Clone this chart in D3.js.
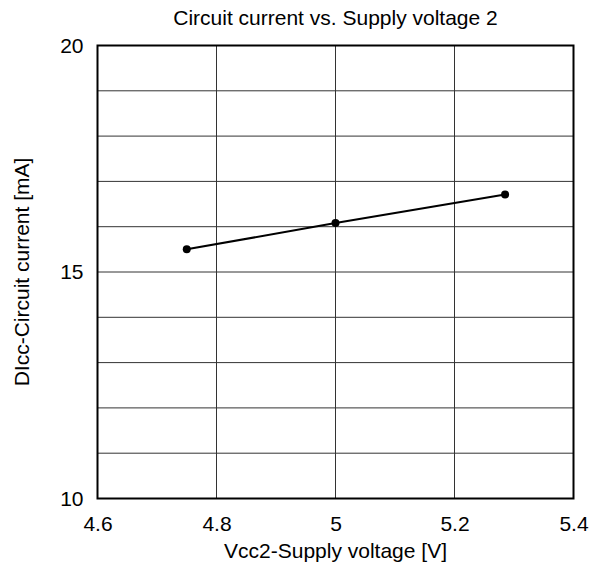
<!DOCTYPE html>
<html><head><meta charset="utf-8">
<script src="https://cdn.jsdelivr.net/npm/d3@7"></script>
<style>body{margin:0;background:#fff}svg{display:block;font-family:"Liberation Sans",Arial,sans-serif}</style>
</head><body>
<svg id="c" width="600" height="575"></svg>
<script>
const voltage = [4.75, 5.0, 5.285];
const current = [15.5, 16.08, 16.71];
const xTicks = [4.6, 4.8, 5.0, 5.2, 5.4];
const xTickLabels = ["4.6", "4.8", "5", "5.2", "5.4"];
const yTicks = [10, 15, 20];
const yGrid = [10, 11, 12, 13, 14, 15, 16, 17, 18, 19, 20];
const title = "Circuit current vs. Supply voltage 2";
const xTitle = "Vcc2-Supply voltage [V]";
const yTitle = "DIcc-Circuit current [mA]";

const FS = 21;
const svg = d3.select("#c");
const L = 97.5, R = 573.5, T = 45.5, B = 498.5;
const x = d3.scaleLinear().domain([4.6, 5.4]).range([L, R]);
const y = d3.scaleLinear().domain([10, 20]).range([B, T]);

// grid
svg.append("g").selectAll("line").data(xTicks).join("line")
  .attr("x1", d => x(d)).attr("x2", d => x(d)).attr("y1", T).attr("y2", B)
  .attr("stroke", "#333").attr("stroke-width", 1);
svg.append("g").selectAll("line").data(yGrid).join("line")
  .attr("y1", d => y(d)).attr("y2", d => y(d)).attr("x1", L).attr("x2", R)
  .attr("stroke", "#333").attr("stroke-width", 1);

// frame
svg.append("rect").attr("x", L).attr("y", T).attr("width", R - L).attr("height", B - T)
  .attr("fill", "none").attr("stroke", "#000").attr("stroke-width", 2);

// axes labels via d3 axes
const xa = svg.append("g").attr("transform", `translate(0,${B})`)
  .call(d3.axisBottom(x).tickValues(xTicks).tickFormat((d, i) => xTickLabels[i]).tickSize(0).tickPadding(18));
const ya = svg.append("g").attr("transform", `translate(${L},0)`)
  .call(d3.axisLeft(y).tickValues(yTicks).tickFormat(d3.format("d")).tickSize(0).tickPadding(14));
[xa, ya].forEach(g => {
  g.select(".domain").remove();
  g.attr("font-size", FS).attr("font-family", '"Liberation Sans",Arial,sans-serif');
  g.selectAll("text").attr("fill", "#000");
});

// line
const pts = voltage.map((v, i) => [v, current[i]]);
svg.append("path").datum(pts)
  .attr("d", d3.line().x(d => x(d[0])).y(d => y(d[1])))
  .attr("fill", "none").attr("stroke", "#000").attr("stroke-width", 2);
svg.append("g").selectAll("circle").data(pts).join("circle")
  .attr("cx", d => x(d[0])).attr("cy", d => y(d[1])).attr("r", 4).attr("fill", "#000");

// titles
svg.append("text").attr("x", (L + R) / 2).attr("y", 25).attr("text-anchor", "middle")
  .attr("font-size", FS).text(title);
svg.append("text").attr("x", (L + R) / 2).attr("y", 558).attr("text-anchor", "middle")
  .attr("font-size", FS).text(xTitle);
svg.append("text").attr("transform", `translate(29,${(T + B) / 2}) rotate(-90)`)
  .attr("text-anchor", "middle").attr("font-size", FS).text(yTitle);
</script>
</body></html>
